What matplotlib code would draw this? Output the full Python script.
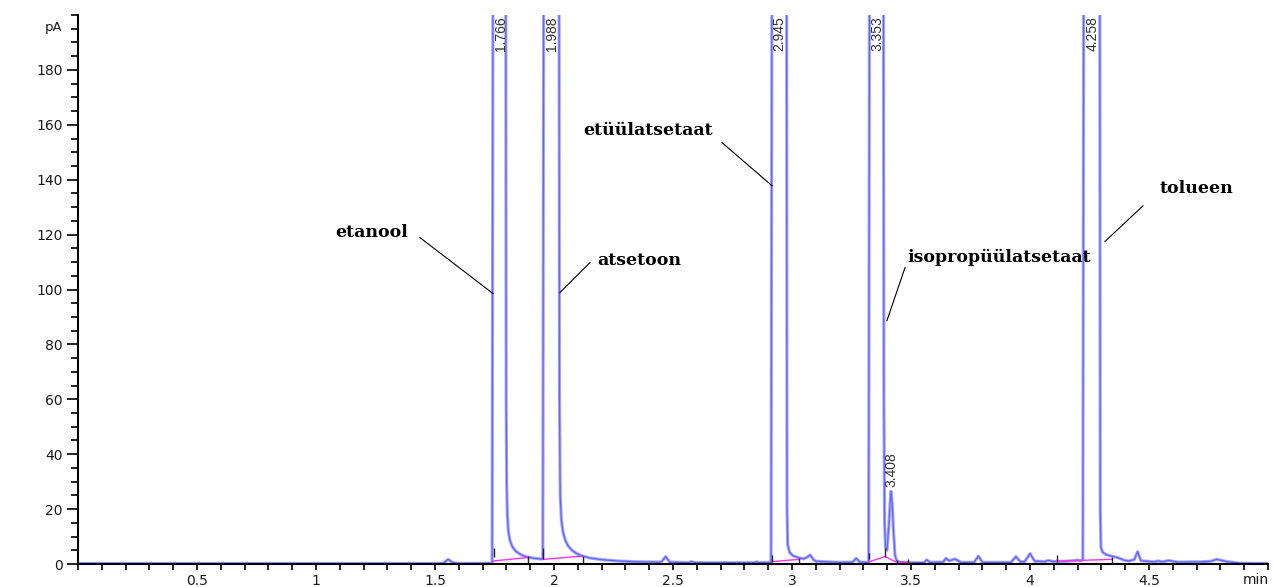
import matplotlib
matplotlib.use("Agg")
import matplotlib.pyplot as plt
from matplotlib.ticker import MultipleLocator, FixedLocator

plt.rcParams['font.family'] = ['DejaVu Sans']

# ---- data ----
# chromatogram trace (time in min, signal in pA); off-scale peaks are clipped at 200
trace_time = [0.00, 1.50, 1.535, 1.555, 1.575, 1.60, 1.740, 1.744, 1.797, 1.799, 1.801,
              1.804, 1.808, 1.815, 1.825, 1.840, 1.860, 1.885, 1.915, 1.948, 1.953,
              1.957, 2.021, 2.023, 2.026, 2.031, 2.038, 2.048, 2.060, 2.075, 2.095,
              2.12, 2.15, 2.20, 2.27, 2.35, 2.44, 2.452, 2.469, 2.486, 2.565, 2.578,
              2.59, 2.84, 2.851, 2.862, 2.912, 2.916, 2.977, 2.979, 2.982, 2.990,
              3.005, 3.030, 3.05, 3.062, 3.076, 3.090, 3.10, 3.20, 3.255, 3.270,
              3.285, 3.322, 3.326, 3.384, 3.386, 3.389, 3.393, 3.399, 3.407, 3.412,
              3.416, 3.421, 3.427, 3.433, 3.440, 3.450, 3.50, 3.555, 3.566, 3.58,
              3.635, 3.647, 3.660, 3.685, 3.71, 3.765, 3.783, 3.800, 3.92, 3.941,
              3.96, 3.978, 4.000, 4.020, 4.042, 4.060, 4.076, 4.10, 4.15, 4.20,
              4.215, 4.222, 4.226, 4.293, 4.295, 4.298, 4.305, 4.320, 4.345, 4.370,
              4.395, 4.415, 4.438, 4.452, 4.466, 4.52, 4.539, 4.56, 4.581, 4.62,
              4.714, 4.760, 4.784, 4.826, 4.882, 5.0]
trace_signal = [0.2, 0.2, 0.3, 1.7, 0.5, 0.2, 0.3, 240, 240, 60, 30,
                18, 12, 8.5, 6.3, 4.6, 3.4, 2.6, 2.1, 1.8, 2.0,
                240, 240, 60, 25, 16, 11.5, 8.5, 6.5, 5.0, 3.8,
                2.9, 2.2, 1.6, 1.1, 0.8, 0.7, 0.8, 2.7, 0.7, 0.5, 0.9,
                0.5, 0.5, 0.8, 0.5, 0.6, 240, 240, 20, 7.0, 4.2,
                3.0, 2.2, 1.9, 2.4, 3.3, 1.6, 1.0, 0.6, 0.7, 2.1,
                0.7, 0.6, 240, 240, 60, 15, 6, 5, 14, 22,
                26.5, 22, 11, 3, 1.2, 0.7, 0.5, 0.5, 1.5, 0.6,
                0.7, 2.1, 1.2, 1.8, 0.6, 0.6, 2.9, 0.6, 0.6, 2.7,
                0.8, 0.9, 3.8, 1.0, 1.0, 0.8, 1.3, 0.9, 1.0, 1.4,
                1.2, 1.5, 240, 240, 20, 6.0, 4.3, 3.4, 2.8, 2.3,
                1.4, 1.1, 1.6, 4.5, 1.2, 0.8, 1.1, 0.8, 1.3, 0.7,
                0.8, 1.0, 1.7, 0.9, 0.3, 0.2]

# integration baselines (magenta) as separate segments
base_segments = [
    ([1.744, 1.892], [1.1, 2.4]),
    ([1.955, 2.120], [1.7, 2.9]),
    ([2.914, 3.031], [0.85, 1.7]),
    ([3.325, 3.391, 3.440, 3.489], [0.85, 2.7, 0.6, 0.6]),
    ([4.112, 4.343], [1.0, 1.7]),
]
# integration event markers (time, lower, upper)
marker_time = [1.746, 1.892, 1.955, 2.120, 2.914, 3.031, 3.325, 3.391, 3.440, 3.489, 4.112, 4.343]
marker_low = [2.5, -0.2, 2.0, 0.0, 0.8, 0.0, 1.8, 2.6, 0.5, 0.0, 0.8, 0.0]
marker_high = [6.0, 3.0, 6.0, 3.0, 3.3, 2.3, 4.0, 6.0, 1.5, 1.7, 3.3, 2.6]

# retention time labels
rt_values = [1.766, 1.988, 2.945, 3.353, 3.408, 4.258]
rt_label_x = [1.776, 1.991, 2.948, 3.357, 3.416, 4.262]
rt_label_y = [199.5, 199.5, 199.5, 199.5, 28.0, 199.5]

# compound annotations
compound_names = ["etanool", "atsetoon", "etüülatsetaat", "isopropüülatsetaat", "tolueen"]
name_x = [1.080, 2.180, 2.122, 3.483, 4.546]
name_y = [120.7, 110.5, 157.8, 111.6, 136.7]
line_start_x = [1.437, 2.151, 2.706, 3.475, 4.475]
line_start_y = [118.9, 109.8, 153.5, 108.0, 130.5]
line_end_x = [1.744, 2.025, 2.916, 3.399, 4.315]
line_end_y = [98.5, 98.9, 137.8, 88.7, 117.5]

x_major = [0.5, 1, 1.5, 2, 2.5, 3, 3.5, 4, 4.5]
x_major_labels = ["0.5", "1", "1.5", "2", "2.5", "3", "3.5", "4", "4.5"]
y_major = [0, 20, 40, 60, 80, 100, 120, 140, 160, 180]

# ---- figure ----
fig = plt.figure(figsize=(12.74, 5.87), dpi=100)
ax = fig.add_axes([78 / 1274, 23 / 587, 1190 / 1274, 549 / 587])

ax.plot(trace_time, trace_signal, color='#aaaaff', lw=2.3, solid_joinstyle='round')
ax.plot(trace_time, trace_signal, color='#2a2aff', lw=0.9, alpha=0.55, solid_joinstyle='round')
for bx, by in base_segments:
    ax.plot(bx, by, color='#ff33ee', lw=1.0)
ax.vlines(marker_time, marker_low, marker_high, color='#222222', lw=1.0)

for v, lx, ly in zip(rt_values, rt_label_x, rt_label_y):
    ax.text(lx, ly, f"{v:.3f}", rotation=90, ha='center', va='top' if ly > 100 else 'bottom',
            fontsize=10, color='#333333', family='Liberation Sans')

for name, nx, ny, sx, sy, ex, ey in zip(compound_names, name_x, name_y,
                                        line_start_x, line_start_y, line_end_x, line_end_y):
    ax.text(nx, ny, name, family='DejaVu Serif', fontweight='bold', fontsize=12.5,
            ha='left', va='center', color='black')
    ax.plot([sx, ex], [sy, ey], color='black', lw=0.8)

ax.set_xlim(0, 5.0)
ax.set_ylim(0, 200)
ax.spines['top'].set_visible(False)
ax.spines['right'].set_visible(False)
ax.spines['left'].set_linewidth(1.5)
ax.spines['bottom'].set_linewidth(1.5)

ax.xaxis.set_major_locator(FixedLocator(x_major))
ax.set_xticklabels(x_major_labels)
ax.xaxis.set_minor_locator(MultipleLocator(0.1))
ax.yaxis.set_major_locator(FixedLocator(y_major))
ax.yaxis.set_minor_locator(MultipleLocator(5))

ax.tick_params(axis='y', which='major', length=8, width=1.2, pad=3, labelsize=10, labelcolor='#1a1a1a')
ax.tick_params(axis='y', which='minor', length=5, width=1.2)
ax.tick_params(axis='x', which='both', length=4.5, width=1.2, pad=2.5, labelsize=10, labelcolor='#1a1a1a')

ax.annotate("pA", xy=(0, 195.5), xycoords=('axes fraction', 'data'), xytext=(-11.5, 0),
            textcoords='offset points', ha='right', va='center', fontsize=9.5, color='#1a1a1a')
ax.annotate("min", xy=(4.95, 0), xycoords='data', xytext=(0, -6.8),
            textcoords='offset points', ha='center', va='top', fontsize=10, color='#1a1a1a',
            annotation_clip=False)

fig.savefig("out.png", dpi=100)
